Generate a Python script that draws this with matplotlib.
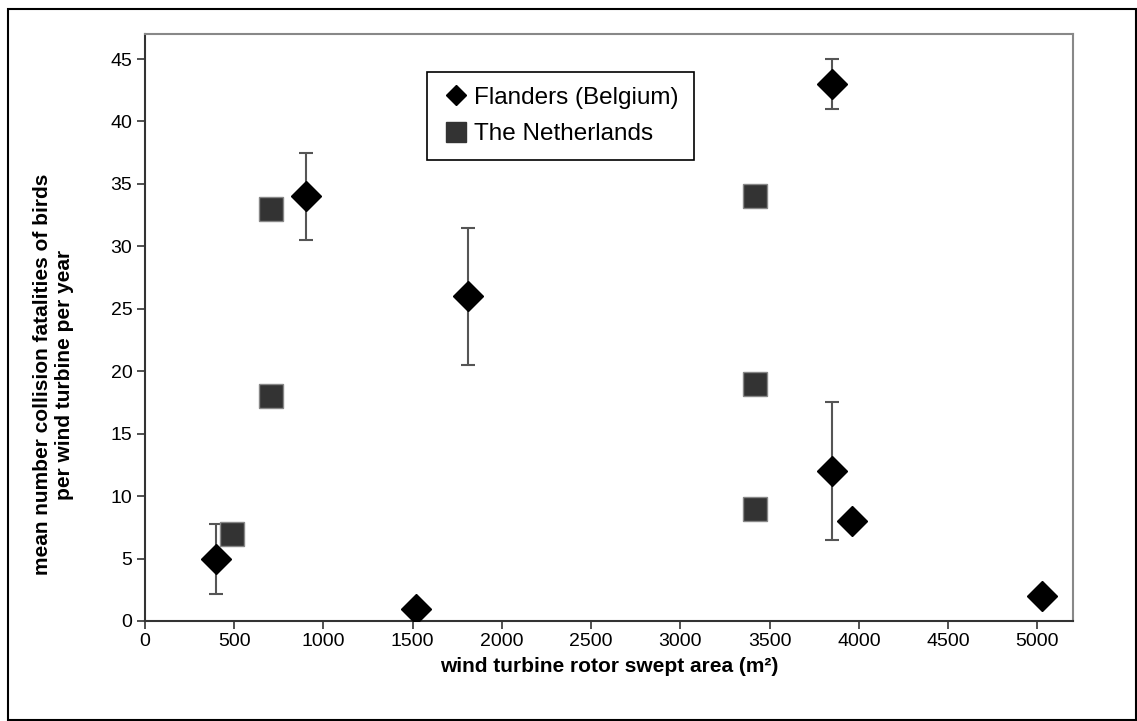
import matplotlib.pyplot as plt
from matplotlib.lines import Line2D
from matplotlib.patches import Rectangle

plt.rcParams['font.family'] = ['Liberation Sans', 'DejaVu Sans']

# Flanders (Belgium)
fl_area = [400, 905, 1520, 1810, 3850, 3850, 3960, 5025]
fl_fatal = [5, 34, 1, 26, 43, 12, 8, 2]
fl_err = [2.8, 3.5, 0, 5.5, 2.0, 5.5, 0, 0]

# The Netherlands
nl_area = [490, 705, 705, 3420, 3420, 3420]
nl_fatal = [7, 33, 18, 34, 19, 9]

fig = plt.figure(figsize=(11.37, 7.21), dpi=100)
ax = fig.add_axes([0.1275, 0.1387, 0.8162, 0.8141])

# error bars only where there is an error
ex = [a for a, e in zip(fl_area, fl_err) if e > 0]
ey = [f for f, e in zip(fl_fatal, fl_err) if e > 0]
ee = [e for e in fl_err if e > 0]
ax.errorbar(ex, ey, yerr=ee, fmt='none', ecolor='#555555', elinewidth=1.5,
            capsize=5, capthick=1.5, zorder=2)

ax.plot(nl_area, nl_fatal, 's', ms=17, color='#333333', mec='#888888',
        mew=1, zorder=3)
ax.plot(fl_area, fl_fatal, 'D', ms=15, color='black', zorder=4)

ax.set_xlim(0, 5200)
ax.set_ylim(0, 47)
ax.set_xticks(range(0, 5001, 500))
ax.set_yticks(range(0, 46, 5))
ax.tick_params(labelsize=14, length=6, width=1.2, color='#333333', pad=3)
for s in ['left', 'bottom']:
    ax.spines[s].set_color('#333333')
    ax.spines[s].set_linewidth(1.5)
for s in ['top', 'right']:
    ax.spines[s].set_color('#888888')
    ax.spines[s].set_linewidth(1.5)

ax.set_xlabel('wind turbine rotor swept area (m²)', fontsize=15,
              fontweight='bold', labelpad=5)
ax.set_ylabel('mean number collision fatalities of birds\nper wind turbine per year',
              fontsize=15, fontweight='bold')
ax.yaxis.set_label_coords(-0.077, 0.42)

handles = [Line2D([], [], marker='D', ls='none', color='black', ms=10),
           Line2D([], [], marker='s', ls='none', color='#333333', ms=14)]
leg = ax.legend(handles, ['Flanders (Belgium)', 'The Netherlands'],
                loc='upper left', bbox_to_anchor=(0.304, 0.935),
                borderaxespad=0, fontsize=17.5, fancybox=False,
                edgecolor='black', framealpha=1, handletextpad=0.15,
                handlelength=1.2, labelspacing=0.6, borderpad=0.6)
leg.get_frame().set_linewidth(1.2)

fig.patches.append(Rectangle((8 / 1137, 0.001), 1 - 8 / 1137 - 0.001,
                             1 - 9 / 721 - 0.001, transform=fig.transFigure,
                             fill=False, edgecolor='black', lw=1.5))

fig.savefig('out.png', dpi=100)
